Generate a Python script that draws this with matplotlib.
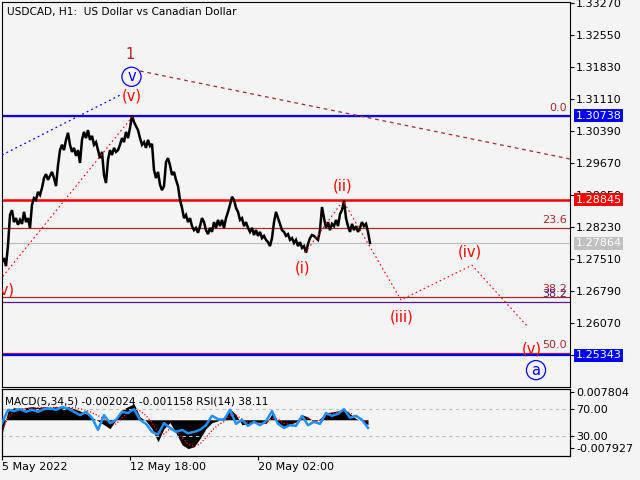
import numpy as np
import matplotlib
matplotlib.use("Agg")
import matplotlib.pyplot as plt

BG = '#f4f4f4'
BROWN = '#a52a2a'

# H1 bars (one bar per pixel column on the MT4 chart)
bars = np.arange(2, 371, 2)
close = [1.2744, 1.2753, 1.2735, 1.2782, 1.2850, 1.2861, 1.2834, 1.2843, 1.2828, 1.2839,
         1.2830, 1.2857, 1.2834, 1.2843, 1.2821, 1.2873, 1.2888, 1.2884, 1.2902, 1.2895,
         1.2911, 1.2933, 1.2942, 1.2929, 1.2938, 1.2947, 1.2933, 1.2915, 1.2962, 1.2996,
         1.3008, 1.2996, 1.3019, 1.3035, 1.3008, 1.2992, 1.3001, 1.2983, 1.2996, 1.2967,
         1.3019, 1.3037, 1.3023, 1.3041, 1.3019, 1.3028, 1.3008, 1.3014, 1.2996, 1.2978,
         1.2992, 1.2940, 1.2922, 1.2974, 1.2996, 1.2985, 1.3001, 1.2992, 1.2996, 1.3008,
         1.3023, 1.3014, 1.3037, 1.3023, 1.3046, 1.3074, 1.3059, 1.3050, 1.3041, 1.3023,
         1.3008, 1.3014, 1.3001, 1.3019, 1.3005, 1.3010, 1.2951, 1.2933, 1.2947, 1.2918,
         1.2906, 1.2915, 1.2969, 1.2978, 1.2962, 1.2940, 1.2947, 1.2929, 1.2915, 1.2884,
         1.2866, 1.2843, 1.2850, 1.2834, 1.2843, 1.2825, 1.2816, 1.2821, 1.2810, 1.2825,
         1.2843, 1.2834, 1.2816, 1.2807, 1.2821, 1.2812, 1.2834, 1.2821, 1.2839, 1.2825,
         1.2839, 1.2821, 1.2843, 1.2857, 1.2873, 1.2891, 1.2884, 1.2866, 1.2857, 1.2839,
         1.2843, 1.2825, 1.2834, 1.2821, 1.2812, 1.2821, 1.2805, 1.2816, 1.2803, 1.2812,
         1.2798, 1.2803, 1.2794, 1.2789, 1.2780, 1.2798, 1.2834, 1.2857, 1.2843, 1.2830,
         1.2816, 1.2812, 1.2803, 1.2807, 1.2794, 1.2798, 1.2787, 1.2794, 1.2780, 1.2789,
         1.2776, 1.2780, 1.2765, 1.2785, 1.2798, 1.2805, 1.2803, 1.2798, 1.2794, 1.2816,
         1.2868, 1.2843, 1.2821, 1.2834, 1.2816, 1.2830, 1.2825, 1.2839, 1.2825, 1.2852,
         1.2861, 1.2882, 1.2843, 1.2825, 1.2812, 1.2830, 1.2816, 1.2825, 1.2812, 1.2821,
         1.2834, 1.2825, 1.2830, 1.2812, 1.2787]

# indicator window, sampled every 6 bars
ind_bars = np.arange(2, 369, 6)
macd_hist = [-0.0039, 0.0025, 0.0034, 0.0031, 0.0034, 0.0037, 0.0034, 0.0037, 0.0034, 0.0037,
             0.0034, 0.0037, 0.0031, 0.0025, 0.0017, 0.0006, -0.0003, -0.0014, -0.0025, 0.0,
             0.0028, 0.0037, 0.0045, 0.0008, -0.0003, -0.0025, -0.0062, -0.0025, -0.0008, -0.0037,
             -0.0070, -0.0081, -0.0076, -0.0053, -0.0025, -0.0008, -0.0003, 0.0008, 0.0031, 0.0014,
             -0.0014, -0.0011, -0.0006, -0.0008, -0.0011, 0.0017, -0.0008, -0.0020, -0.0014, -0.0006,
             0.0014, 0.0008, -0.0008, 0.0003, 0.0020, 0.0022, 0.0025, 0.0031, 0.0017, 0.0003,
             -0.0003, -0.0014]
macd_signal = [-0.0030, 0.0005, 0.0025, 0.0030, 0.0032, 0.0033, 0.0034, 0.0034, 0.0034, 0.0035,
               0.0035, 0.0035, 0.0034, 0.0031, 0.0027, 0.0020, 0.0012, 0.0003, -0.0010, -0.0012,
               0.0005, 0.0020, 0.0033, 0.0025, 0.0012, -0.0008, -0.0035, -0.0040, -0.0025, -0.0030,
               -0.0050, -0.0068, -0.0075, -0.0068, -0.0050, -0.0030, -0.0015, -0.0005, 0.0012, 0.0013,
               0.0002, -0.0008, -0.0008, -0.0008, -0.0010, 0.0004, 0.0002, -0.0010, -0.0013, -0.0010,
               0.0001, 0.0004, -0.0003, -0.0002, 0.0010, 0.0018, 0.0021, 0.0025, 0.0020, 0.0008,
               0.0001, -0.0005]
rsi = [49, 69, 67, 70, 66, 69, 66, 70, 71, 69,
       73, 71, 66, 61, 66, 57, 39, 61, 49, 54,
       66, 64, 70, 54, 48, 36, 32, 49, 42, 36,
       39, 34, 36, 39, 46, 60, 55, 54, 69, 48,
       54, 45, 51, 46, 52, 67, 48, 42, 46, 45,
       60, 46, 51, 48, 64, 60, 63, 70, 57, 60,
       54, 42]

# levels
high_1 = 1.30738
res_level = 1.28845
last_price = 1.27864
target = 1.25343
fib_top, fib_bottom = 1.30738, 1.2006
fib_levels = [0.0, 23.6, 38.2, 50.0]
fib2_382 = 1.26543

# wave marks (bar, price)
wave_zigzag_x = [305, 343, 401, 472, 528]
wave_zigzag_y = [1.2765, 1.2882, 1.2659, 1.2737, 1.2598]
wave_up_x = [0, 133]
wave_up_y = [1.2704, 1.3073]
blue_up_x = [2, 122]
blue_up_y = [1.2985, 1.3122]
trend_x = [140, 570]
trend_y = [1.3174, 1.2976]

red_labels = [('(v)', 132, 1.3118), ('(ii)', 343, 1.2915), ('(i)', 303, 1.2731),
              ('(iii)', 402, 1.2621), ('(iv)', 470, 1.2767), ('(v)', 532, 1.2548),
              ('(v)', 5, 1.2681)]
circle_labels = [('v', 131.5, 1.3161), ('a', 536, 1.2501)]

price_ticks = np.arange(1.2535, 1.3330, 0.0072)

fig = plt.figure(figsize=(6.4, 4.8), dpi=100, facecolor=BG)
ax = fig.add_axes([2 / 640, 1 - 387 / 480, 568 / 640, 385 / 480], facecolor=BG)
ax2 = fig.add_axes([2 / 640, 1 - 456 / 480, 568 / 640, 67 / 480], facecolor=BG)

# ---- main chart
ax.plot(bars, close, color='black', lw=1.8, solid_joinstyle='miter', zorder=3)

fib_prices = [fib_top - l / 100 * (fib_top - fib_bottom) for l in fib_levels]
for lv, fp in zip(fib_levels, fib_prices):
    ax.axhline(fp if lv > 0 else fp - 0.0001, color=BROWN, lw=0.9, zorder=2)
    ax.annotate('%.1f' % lv, xy=(1, fp), xycoords=ax.get_yaxis_transform(),
                xytext=(-2, 2), textcoords='offset points', ha='right', va='bottom',
                fontsize=8, color=BROWN)
ax.axhline(fib2_382, color='#551a8b', lw=0.9, zorder=2)
ax.annotate('38.2', xy=(1, fib2_382), xycoords=ax.get_yaxis_transform(),
            xytext=(-2, 2), textcoords='offset points', ha='right', va='bottom',
            fontsize=8, color='#551a8b')
ax.axhline(last_price, color='#c0c0c0', lw=0.9, zorder=2)
ax.axhline(high_1, color='#0000ff', lw=1.6, zorder=2)
ax.axhline(target, color='#0000ff', lw=1.6, zorder=2)
ax.axhline(res_level, color='#ff0000', lw=1.8, zorder=2)

ax.plot(wave_zigzag_x, wave_zigzag_y, color='#ff0000', lw=0.8, ls=(0, (1.5, 2.5)), zorder=4)
ax.plot(wave_up_x, wave_up_y, color='#ff0000', lw=0.8, ls=(0, (1.5, 2.5)), zorder=4)
ax.plot(blue_up_x, blue_up_y, color='#0000ff', lw=0.9, ls=(0, (1.5, 2.5)), zorder=4)
ax.plot(trend_x, trend_y, color=BROWN, lw=0.9, ls=(0, (3, 3)), zorder=4)

for txt, bx, py in red_labels:
    ax.text(bx, py, txt, color='#ff0000', fontsize=10.5, ha='center', va='center',
            zorder=6, clip_on=True)
ax.text(130, 1.3212, '1', color='#b22222', fontsize=10.5, ha='center', va='center', zorder=6)
for txt, bx, py in circle_labels:
    ax.scatter([bx], [py], s=190, facecolors='none', edgecolors='#0000ff', linewidths=0.9, zorder=6)
    ax.text(bx, py, txt, color='#0000ff', fontsize=10.5, ha='center', va='center', zorder=6)

ax.set_xlim(2, 570)
ax.set_ylim(1.2463, 1.332925)
ax.set_xticks([])
ax.yaxis.tick_right()
ax.set_yticks(price_ticks)
ax.set_yticklabels(['%.5f' % t for t in price_ticks])
ax.tick_params(axis='y', direction='out', length=3, width=0.8, pad=1.5, labelsize=8)

for price, fc in [(high_1, '#0000ff'), (res_level, '#ff0000'), (last_price, '#c0c0c0'), (target, '#0000ff')]:
    ax.annotate('%.5f' % price, xy=(1, price), xycoords=ax.get_yaxis_transform(),
                xytext=(4, 0), textcoords='offset points', ha='left', va='center',
                fontsize=8, color='white', annotation_clip=False, zorder=10,
                bbox=dict(boxstyle='square,pad=0.12', fc=fc, ec='none'))

# ---- indicator window
ax2.fill_between(ind_bars, 0, macd_hist, color='black', lw=0, zorder=2)
ax2.plot(ind_bars, macd_signal, color='#ff0000', lw=0.9, ls=(0, (1, 1.5)), zorder=3)
ax2.set_xlim(2, 570)
ax2.set_ylim(-0.01018, 0.00865)
ax2.set_xticks([2, 130, 258])
ax2.set_xticklabels(['5 May 2022', '12 May 18:00', '20 May 02:00'], ha='left')
ax2.tick_params(axis='x', direction='out', length=3, width=0.8, pad=1.5, labelsize=8)

ax3 = ax2.twinx()
ax3.axhline(70, color='#c0c0c0', lw=0.8, ls=(0, (3, 3)))
ax3.axhline(30, color='#c0c0c0', lw=0.8, ls=(0, (3, 3)))
ax3.plot(ind_bars, rsi, color='#1e90ff', lw=1.8, zorder=3)
ax3.set_ylim(0, 100)
ax3.set_yticks([70, 30])
ax3.set_yticklabels(['70.00', '30.00'])
ax3.tick_params(axis='y', direction='out', length=3, width=0.8, pad=1.5, labelsize=8)

# twinx moves the host ticks to the left, so put them back on the right
ax2.yaxis.tick_right()
ax2.set_yticks([0.007804, -0.007927])
ax2.set_yticklabels(['0.007804', '-0.007927'])
ax2.tick_params(axis='y', direction='out', length=3, width=0.8, pad=1.5, labelsize=8)

for a in (ax, ax2, ax3):
    for s in a.spines.values():
        s.set_color('black')
        s.set_linewidth(0.8)

fig.text(7 / 640, 1 - 12 / 480, 'USDCAD, H1:  US Dollar vs Canadian Dollar', fontsize=7.6,
         va='center', ha='left')
fig.text(5 / 640, 1 - 401 / 480, 'MACD(5,34,5) -0.002024 -0.001158 RSI(14) 38.11', fontsize=7.6,
         va='center', ha='left')

fig.savefig('out.png', dpi=100, facecolor=BG)
